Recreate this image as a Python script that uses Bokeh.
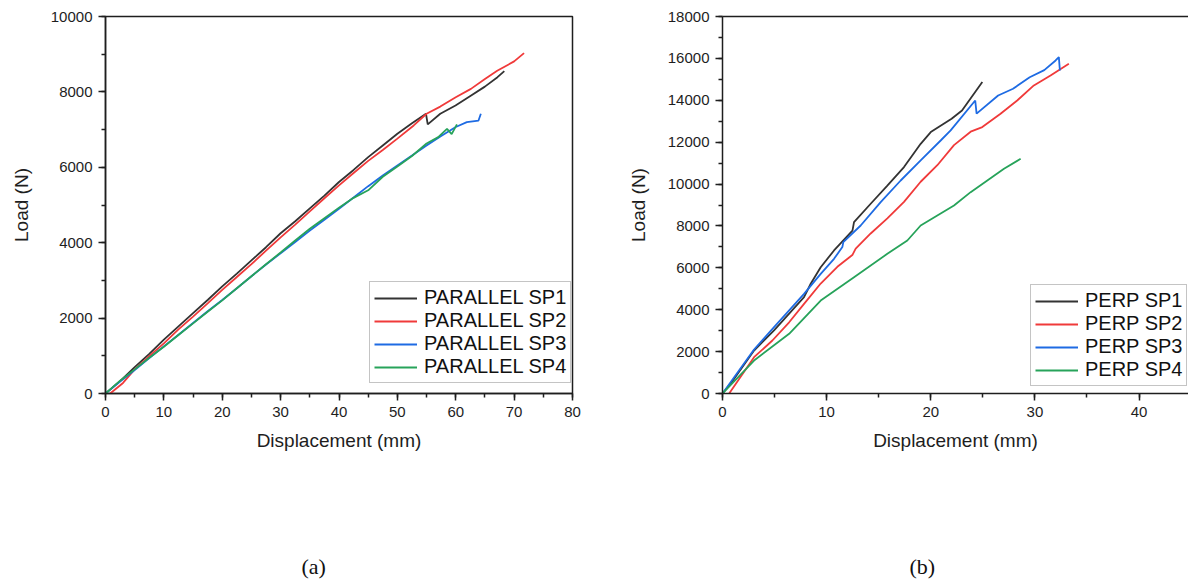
from bokeh.plotting import figure
from bokeh.layouts import row
from bokeh.models import (Range1d, SingleIntervalTicker, FixedTicker, LinearAxis,
                          Legend, LegendItem, Title)
from bokeh.embed import file_html
from bokeh.resources import INLINE

# ---------------- data: (a) parallel ----------------
par_sp1_x = [0, 1, 2.5, 5, 7.5, 10, 12.5, 15, 17.5, 20, 22.5, 25, 27.5, 30, 32.5, 35, 37.5, 40,
             42.5, 45, 47.5, 50, 52.5, 54.9, 55.2, 57.35, 59.96, 62.57, 64.99, 67.15, 68.32]
par_sp1_y = [0, 130, 330, 700, 1050, 1430, 1780, 2130, 2480, 2840, 3180, 3530, 3880, 4250, 4570,
             4910, 5250, 5610, 5930, 6270, 6580, 6890, 7170, 7420, 7140, 7420, 7640, 7900, 8140,
             8390, 8550]

par_sp2_x = [0.8, 3, 5, 7.5, 10, 12.5, 15, 17.5, 20, 22.5, 25, 27.5, 30, 32.5, 35, 37.5, 40,
             42.5, 45, 47.5, 50, 52.8, 55, 57.35, 60, 62.6, 65, 67.1, 70, 71.7]
par_sp2_y = [0, 280, 640, 990, 1330, 1700, 2040, 2390, 2750, 3090, 3430, 3790, 4140, 4480,
             4830, 5180, 5520, 5850, 6170, 6460, 6760, 7110, 7420, 7610, 7860, 8080, 8340, 8560,
             8810, 9030]

par_sp3_x = [0, 2.5, 5, 7.5, 10, 12.5, 15, 17.5, 20, 22.5, 25, 27.5, 30, 32.5, 35, 37.5, 40,
             42.5, 45, 47.5, 50, 52.5, 55, 57.5, 60, 61.9, 63.9, 64.3]
par_sp3_y = [0, 320, 620, 940, 1250, 1560, 1870, 2180, 2480, 2790, 3110, 3420, 3720, 4020,
             4320, 4610, 4900, 5200, 5500, 5780, 6050, 6310, 6580, 6830, 7070, 7200, 7240, 7420]

par_sp4_x = [0, 2.5, 5, 7.5, 10, 12.5, 15, 17.5, 20, 22.5, 25, 27.5, 30, 32.5, 35, 37.5, 40,
             42.5, 45, 47.5, 50, 52.5, 55, 57, 58.5, 59.3, 60.2]
par_sp4_y = [0, 340, 640, 950, 1240, 1550, 1860, 2170, 2470, 2790, 3110, 3430, 3740, 4060,
             4370, 4650, 4930, 5190, 5390, 5750, 6020, 6300, 6630, 6800, 7020, 6880, 7140]

# ---------------- data: (b) perpendicular ----------------
perp_sp1_x = [0, 0.8, 3.03, 4.95, 7.83, 8.47, 9.43, 10.71, 12.48, 12.63, 14.23, 15.83, 17.43,
              19.03, 20.0, 22.0, 23.0, 24.95]
perp_sp1_y = [0, 480, 2050, 3010, 4600, 5240, 6030, 6830, 7780, 8180, 9060, 9930, 10810,
              11920, 12480, 13120, 13510, 14870]

perp_sp2_x = [0.64, 3.03, 4.79, 6.4, 7.83, 9.43, 11.03, 12.47, 12.79, 14.23, 15.83, 17.43,
              19.03, 20.63, 22.23, 23.83, 24.95, 26.7, 28.3, 29.9, 31.5, 33.26]
perp_sp2_y = [0, 1735, 2530, 3400, 4280, 5250, 6050, 6610, 6920, 7640, 8360, 9150, 10110,
              10900, 11860, 12500, 12720, 13360, 13990, 14710, 15180, 15740]

perp_sp3_x = [0, 3.03, 4.95, 7.83, 9.43, 10.71, 11.51, 11.6, 13.27, 15.19, 17.11, 19.03,
              20.95, 21.91, 24.27, 24.4, 26.47, 27.9, 29.5, 30.9, 31.99, 32.3, 32.4]
perp_sp3_y = [0, 2100, 3170, 4760, 5710, 6430, 6990, 7230, 8020, 9140, 10170, 11130, 12080,
              12560, 13990, 13360, 14230, 14550, 15100, 15440, 15900, 16060, 15420]

perp_sp4_x = [0, 3.03, 6.4, 9.43, 12.63, 15.83, 17.75, 19.03, 20.63, 22.23, 23.83, 25.43,
              27.03, 28.63]
perp_sp4_y = [0, 1575, 2850, 4440, 5555, 6670, 7306, 8022, 8500, 8977, 9613, 10170, 10727,
              11205]

par_labels = ["PARALLEL SP1", "PARALLEL SP2", "PARALLEL SP3", "PARALLEL SP4"]
perp_labels = ["PERP SP1", "PERP SP2", "PERP SP3", "PERP SP4"]
captions = ["(a)", "(b)"]
colors = ["#333333", "#f03a3a", "#1e6be3", "#27a35a"]

SANS = "Liberation Sans"
SERIF = "Liberation Serif"
AX = "#1e1e1e"


def style_axis(ax, label):
    ax.axis_label = label
    ax.axis_label_text_font = SANS
    ax.axis_label_text_font_size = "19px"
    ax.axis_label_text_font_style = "normal"
    ax.axis_label_text_color = AX
    ax.major_label_text_font = SANS
    ax.major_label_text_font_size = "15px"
    ax.major_label_text_color = AX
    ax.axis_line_color = AX
    ax.axis_line_width = 1.5
    ax.major_tick_line_color = AX
    ax.major_tick_line_width = 1.5
    ax.minor_tick_line_color = AX
    ax.minor_tick_line_width = 1.5
    ax.major_tick_in = 0
    ax.major_tick_out = 7
    ax.minor_tick_in = 0
    ax.minor_tick_out = 4
    ax.major_label_standoff = 6


def make_fig(xs, ys, labels, xmax, ymax, border_left, border_right, legend_loc, outline,
             caption, caption_offset):
    p = figure(width=594, height=584, output_backend="svg", toolbar_location=None,
               x_range=Range1d(0, xmax), y_range=Range1d(0, ymax),
               min_border_left=border_left, min_border_right=border_right,
               min_border_top=16, min_border_bottom=191)
    p.xgrid.visible = False
    p.ygrid.visible = False
    p.background_fill_color = "white"
    p.border_fill_color = "white"
    p.xaxis.ticker = SingleIntervalTicker(interval=10, num_minor_ticks=2)
    p.yaxis.ticker = SingleIntervalTicker(interval=2000, num_minor_ticks=2)
    style_axis(p.xaxis[0], "Displacement (mm)")
    style_axis(p.yaxis[0], "Load (N)")
    p.xaxis.axis_label_standoff = 10
    p.yaxis.axis_label_standoff = 16
    if outline:
        p.outline_line_color = AX
        p.outline_line_width = 1.5
        p.outline_line_alpha = 1
    else:
        p.outline_line_color = None
        top = LinearAxis(ticker=FixedTicker(ticks=[]), axis_line_color=AX, axis_line_width=1.5,
                         major_label_text_font_size="0px")
        p.add_layout(top, "above")
    items = []
    for x, y, lab, c in zip(xs, ys, labels, colors):
        r = p.line(x, y, line_color=c, line_width=1.8)
        items.append(LegendItem(label=lab, renderers=[r]))
    leg = Legend(items=items, location=legend_loc, glyph_width=43, glyph_height=20,
                 label_standoff=7, padding=4, spacing=0, margin=0,
                 label_text_font=SANS, label_text_font_size="20px", label_text_color="#111111",
                 border_line_color="#8a8a8a", border_line_width=1.2,
                 background_fill_color="white", background_fill_alpha=1)
    p.add_layout(leg, "center")
    # invisible spacer between the x axis and the sub-figure caption
    spacer = LinearAxis(ticker=FixedTicker(ticks=[0]), axis_line_color=None,
                        major_tick_line_alpha=0, minor_tick_line_color=None,
                        major_tick_out=96, major_tick_in=0, minor_tick_out=0,
                        major_label_text_alpha=0, major_label_text_font_size="1px",
                        major_label_standoff=0)
    p.add_layout(spacer, "below")
    cap = Title(text=caption, align="left", offset=caption_offset, standoff=4,
                text_font=SERIF, text_font_size="22px", text_font_style="normal",
                text_color="#111111")
    p.add_layout(cap, "below")
    return p


pa = make_fig([par_sp1_x, par_sp2_x, par_sp3_x, par_sp4_x],
              [par_sp1_y, par_sp2_y, par_sp3_y, par_sp4_y],
              par_labels, 80, 10000, 105, 22, (264, 10), True, captions[0], 196)
pb = make_fig([perp_sp1_x, perp_sp2_x, perp_sp3_x, perp_sp4_x],
              [perp_sp1_y, perp_sp2_y, perp_sp3_y, perp_sp4_y],
              perp_labels, 44.75, 18000, 128, 0, (308, 7), False, captions[1], 187)

layout = row(pa, pb)
open("out.html", "w").write(file_html(layout, INLINE))
